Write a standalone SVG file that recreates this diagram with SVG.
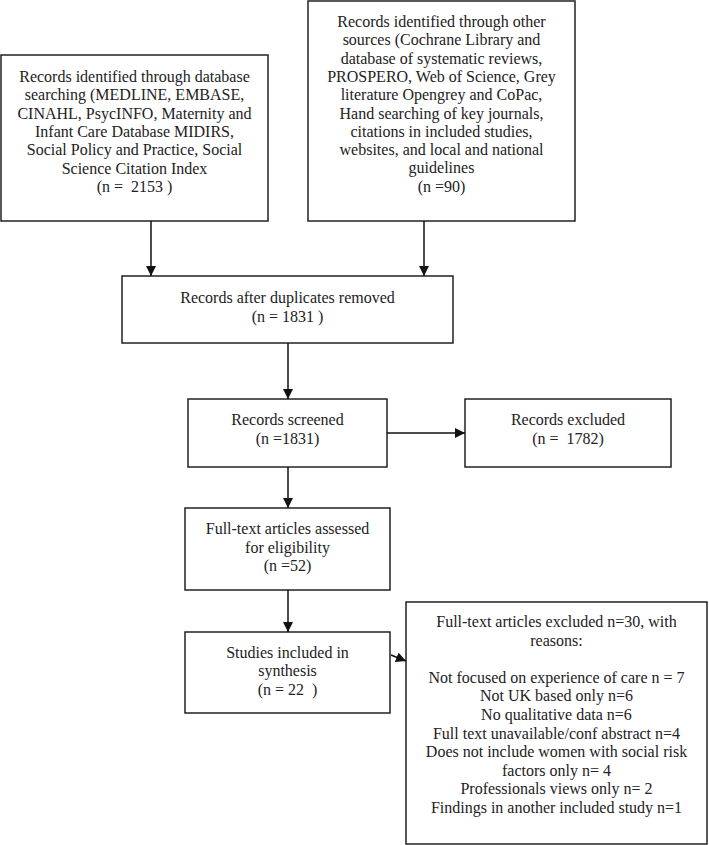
<svg xmlns="http://www.w3.org/2000/svg" width="709" height="845" viewBox="0 0 709 845">
<defs>
<marker id="ah" markerWidth="11" markerHeight="11" refX="10" refY="5" orient="auto" markerUnits="userSpaceOnUse">
<path d="M0,0 L10,5 L0,10 Z" fill="#111"/>
</marker>
<style>
.box{fill:#fff;stroke:#222;stroke-width:1.5}
.t{font-family:"Liberation Serif","Times New Roman",serif;font-size:16px;fill:#222;text-anchor:middle;white-space:pre}
.c{stroke:#111;stroke-width:1.5;fill:none}
</style>
</defs>
<rect width="709" height="845" fill="#fff"/>
<g id="db">
<rect class="box" x="1" y="55" width="267" height="166"/>
<text class="t"><tspan x="134.5" y="82">Records identified through database</tspan><tspan x="134.5" y="100.3">searching (MEDLINE, EMBASE,</tspan><tspan x="134.5" y="118.6">CINAHL, PsycINFO, Maternity and</tspan><tspan x="134.5" y="136.9">Infant Care Database MIDIRS,</tspan><tspan x="134.5" y="155.2">Social Policy and Practice, Social</tspan><tspan x="134.5" y="173.5">Science Citation Index</tspan><tspan x="134.5" y="191.8">(n =  2153 )</tspan></text>
</g>
<g id="other">
<rect class="box" x="308" y="1" width="267" height="220"/>
<text class="t"><tspan x="441.5" y="27">Records identified through other</tspan><tspan x="441.5" y="45.3">sources (Cochrane Library and</tspan><tspan x="441.5" y="63.6">database of systematic reviews,</tspan><tspan x="441.5" y="81.9">PROSPERO, Web of Science, Grey</tspan><tspan x="441.5" y="100.2">literature Opengrey and CoPac,</tspan><tspan x="441.5" y="118.5">Hand searching of key journals,</tspan><tspan x="441.5" y="136.8">citations in included studies,</tspan><tspan x="441.5" y="155.1">websites, and local and national</tspan><tspan x="441.5" y="173.4">guidelines</tspan><tspan x="441.5" y="192">(n =90)</tspan></text>
</g>
<g id="dedup">
<rect class="box" x="122" y="276" width="331" height="67"/>
<text class="t"><tspan x="287.5" y="303">Records after duplicates removed</tspan><tspan x="287.5" y="321.5">(n = 1831 )</tspan></text>
</g>
<g id="screened">
<rect class="box" x="188" y="399" width="199" height="68"/>
<text class="t"><tspan x="287.5" y="425">Records screened</tspan><tspan x="287.5" y="444">(n =1831)</tspan></text>
</g>
<g id="excluded">
<rect class="box" x="465" y="399" width="206" height="68"/>
<text class="t"><tspan x="568" y="425">Records excluded</tspan><tspan x="568" y="444">(n =  1782)</tspan></text>
</g>
<g id="fulltext">
<rect class="box" x="185" y="508" width="205" height="82"/>
<text class="t"><tspan x="287.5" y="534">Full-text articles assessed</tspan><tspan x="287.5" y="552.5">for eligibility</tspan><tspan x="287.5" y="571">(n =52)</tspan></text>
</g>
<g id="included">
<rect class="box" x="185" y="632" width="205" height="81"/>
<text class="t"><tspan x="287.5" y="657.5">Studies included in</tspan><tspan x="287.5" y="676">synthesis</tspan><tspan x="287.5" y="694.5">(n = 22  )</tspan></text>
</g>
<g id="ftexcluded">
<rect class="box" x="406" y="602" width="301" height="242"/>
<text class="t"><tspan x="556.5" y="627">Full-text articles excluded n=30, with</tspan><tspan x="556.5" y="645.6">reasons:</tspan><tspan x="556.5" y="682.8">Not focused on experience of care n = 7</tspan><tspan x="556.5" y="701.4">Not UK based only n=6</tspan><tspan x="556.5" y="720">No qualitative data n=6</tspan><tspan x="556.5" y="738.6">Full text unavailable/conf abstract n=4</tspan><tspan x="556.5" y="757.2">Does not include women with social risk</tspan><tspan x="556.5" y="775.8">factors only n= 4</tspan><tspan x="556.5" y="794.4">Professionals views only n= 2</tspan><tspan x="556.5" y="813">Findings in another included study n=1</tspan></text>
</g>
<g id="connectors">
<line class="c" x1="151" y1="221" x2="151" y2="276" marker-end="url(#ah)"/>
<line class="c" x1="424" y1="221" x2="424" y2="276" marker-end="url(#ah)"/>
<line class="c" x1="288" y1="343" x2="288" y2="399" marker-end="url(#ah)"/>
<line class="c" x1="387" y1="433" x2="465" y2="433" marker-end="url(#ah)"/>
<line class="c" x1="288" y1="467" x2="288" y2="508" marker-end="url(#ah)"/>
<line class="c" x1="288" y1="590" x2="288" y2="632" marker-end="url(#ah)"/>
<line class="c" x1="391" y1="655" x2="406" y2="661" marker-end="url(#ah)"/>
</g>
</svg>
